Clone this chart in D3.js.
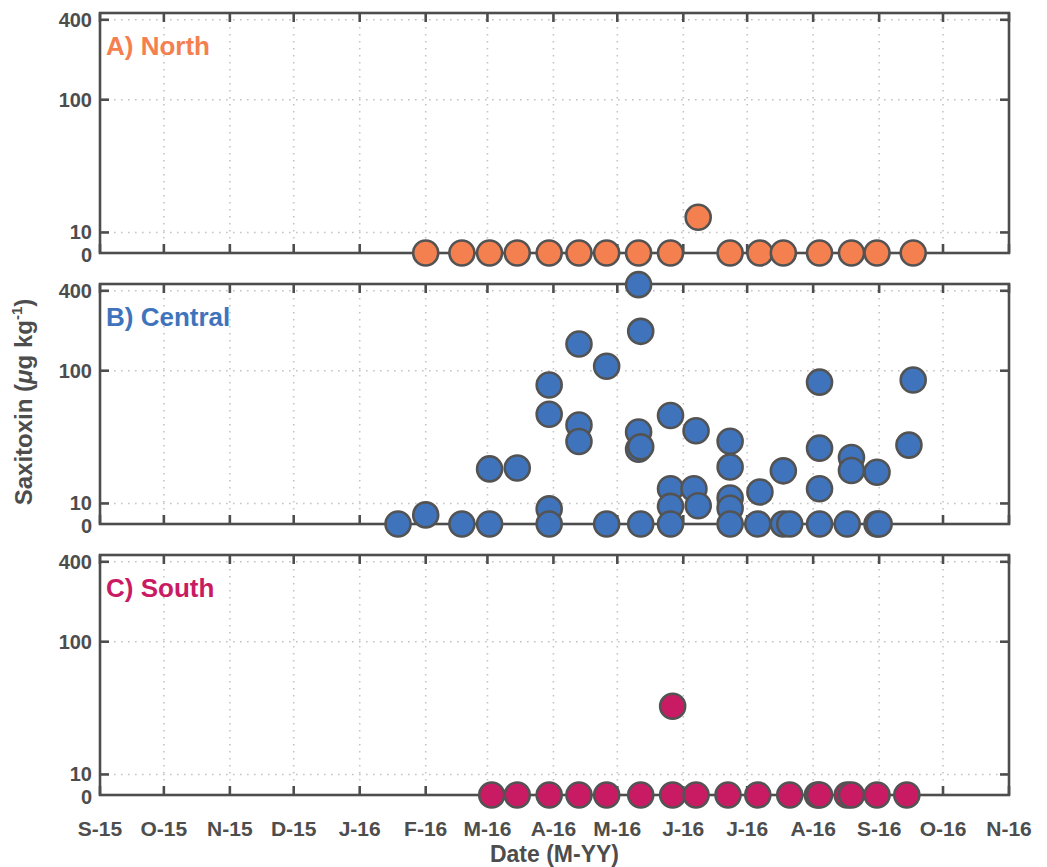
<!DOCTYPE html>
<html>
<head>
<meta charset="utf-8">
<script src="https://cdn.jsdelivr.net/npm/d3@7"></script>
<style>
  body { margin: 0; background: #fff; }
  text { font-family: "Liberation Sans", Arial, sans-serif; font-weight: bold; }
</style>
</head>
<body>
<div id="graph"></div>
<script>
// sampling dates and saxitoxin values (0 = below detection, drawn on the bottom axis)
const northDates = ['2016-02-01', '2016-02-18', '2016-03-02', '2016-03-15', '2016-03-30', '2016-04-13',
  '2016-04-26', '2016-05-11', '2016-05-26', '2016-06-08', '2016-06-23', '2016-07-07', '2016-07-18',
  '2016-08-04', '2016-08-19', '2016-08-31', '2016-09-17']
const northValues = [0, 0, 0, 0, 0, 0, 0, 0, 0, 13, 0, 0, 0, 0, 0, 0, 0]

const centralDates = ['2016-01-19', '2016-02-01', '2016-02-18', '2016-03-02', '2016-03-02', '2016-03-15',
  '2016-03-30', '2016-03-30', '2016-03-30', '2016-03-30', '2016-04-13', '2016-04-13', '2016-04-13',
  '2016-04-26', '2016-04-26', '2016-05-11', '2016-05-12', '2016-05-11', '2016-05-11', '2016-05-12',
  '2016-05-12', '2016-05-26', '2016-05-26', '2016-05-26', '2016-05-26', '2016-06-07', '2016-06-06',
  '2016-06-08', '2016-06-23', '2016-06-23', '2016-06-23', '2016-06-23', '2016-06-23', '2016-07-07',
  '2016-07-06', '2016-07-18', '2016-07-18', '2016-07-21', '2016-08-04', '2016-08-04', '2016-08-04',
  '2016-08-04', '2016-08-19', '2016-08-19', '2016-08-17', '2016-08-31', '2016-08-31', '2016-09-01',
  '2016-09-17', '2016-09-15']
const centralValues = [0, 8.2, 0, 0, 18.2, 18.5,
  78, 47, 9.1, 0, 159, 39, 29.3,
  108, 0, 445, 198, 34.5, 25.6, 26.7,
  0, 46, 12.9, 9.5, 0, 35.3, 12.9,
  9.6, 29.4, 18.8, 11, 9.2, 0, 12.2,
  0, 17.6, 0, 0, 82, 26.1, 12.9,
  0, 22.2, 17.7, 0, 17.2, 0, 0,
  85, 27.5]

const southDates = ['2016-03-03', '2016-03-15', '2016-03-30', '2016-04-13', '2016-04-26', '2016-05-12',
  '2016-05-27', '2016-05-27', '2016-06-07', '2016-06-22', '2016-07-06', '2016-07-21', '2016-08-03',
  '2016-08-04', '2016-08-17', '2016-08-19', '2016-08-31', '2016-09-14']
const southValues = [0, 0, 0, 0, 0, 0, 0, 32.6, 0, 0, 0, 0, 0, 0, 0, 0, 0, 0]

const panelNames = ['A) North', 'B) Central', 'C) South']
const panelColors = ['#f4804f', '#3f74bd', '#c91b63']
const yTicks = [0, 10, 100, 400]

const width = 1047
const height = 867
const left = 100
const right = 1009
const panelTops = [13, 284, 555]
const panelHeight = 240
const axisColor = '#4d4d4d'

const parse = d3.timeParse('%Y-%m-%d')
const panels = [
  { dates: northDates, values: northValues },
  { dates: centralDates, values: centralValues },
  { dates: southDates, values: southValues }
]

const svg = d3.select('#graph').append('svg')
  .attr('width', width)
  .attr('height', height)

const xScale = d3.scaleUtc()
  .domain([new Date(Date.UTC(2015, 8, 1)), new Date(Date.UTC(2016, 10, 1))])
  .range([left, right])
const monthTicks = d3.utcMonth.range(new Date(Date.UTC(2015, 8, 1)), new Date(Date.UTC(2016, 10, 2)))
const monthLabel = (d) => d3.utcFormat('%b')(d)[0] + '-' + d3.utcFormat('%y')(d)

panels.forEach((p, i) => {
  const top = panelTops[i]
  const yScale = d3.scaleLog().domain([7, 450]).range([top + panelHeight, top]).clamp(true)
  const yOf = (v) => yScale(v <= 0 ? 7 : v)
  const g = svg.append('g')

  // grid
  g.selectAll('.vgrid').data(monthTicks.slice(1, -1)).join('line')
    .attr('x1', (d) => xScale(d)).attr('x2', (d) => xScale(d))
    .attr('y1', top).attr('y2', top + panelHeight)
    .attr('stroke', '#c4c4c4').attr('stroke-width', 1.6).attr('stroke-dasharray', '1.6,5.4')
  g.selectAll('.hgrid').data(yTicks.filter((t) => t > 0)).join('line')
    .attr('x1', left).attr('x2', right)
    .attr('y1', (d) => yOf(d)).attr('y2', (d) => yOf(d))
    .attr('stroke', '#c4c4c4').attr('stroke-width', 1.6).attr('stroke-dasharray', '1.6,5.4')

  // box
  g.append('rect')
    .attr('x', left).attr('y', top)
    .attr('width', right - left).attr('height', panelHeight)
    .attr('fill', 'none').attr('stroke', axisColor).attr('stroke-width', 2.6)

  // inward ticks
  g.selectAll('.ytl').data(yTicks.filter((t) => t > 0)).join('line')
    .attr('x1', left).attr('x2', left + 9)
    .attr('y1', (d) => yOf(d)).attr('y2', (d) => yOf(d))
    .attr('stroke', axisColor).attr('stroke-width', 2.6)
  g.selectAll('.ytr').data(yTicks.filter((t) => t > 0)).join('line')
    .attr('x1', right).attr('x2', right - 9)
    .attr('y1', (d) => yOf(d)).attr('y2', (d) => yOf(d))
    .attr('stroke', axisColor).attr('stroke-width', 2.6)
  g.selectAll('.xtb').data(monthTicks).join('line')
    .attr('x1', (d) => xScale(d)).attr('x2', (d) => xScale(d))
    .attr('y1', top + panelHeight).attr('y2', top + panelHeight - 9)
    .attr('stroke', axisColor).attr('stroke-width', 2.6)
  g.selectAll('.xtt').data(monthTicks).join('line')
    .attr('x1', (d) => xScale(d)).attr('x2', (d) => xScale(d))
    .attr('y1', top).attr('y2', top + 9)
    .attr('stroke', axisColor).attr('stroke-width', 2.6)

  // y tick labels (the 0 label sits a touch low so it clears the 10)
  g.selectAll('.ylab').data(yTicks).join('text')
    .attr('x', left - 8)
    .attr('y', (d) => yOf(d) + (d === 0 ? 1.5 : d === 10 ? -1 : 0))
    .attr('dy', '0.36em')
    .attr('text-anchor', 'end')
    .attr('font-size', 20)
    .attr('fill', axisColor)
    .text((d) => d)

  // title
  g.append('text')
    .attr('x', left + 6).attr('y', top + 42)
    .attr('font-size', 26)
    .attr('fill', panelColors[i])
    .text(panelNames[i])

  // points
  const pts = p.dates.map((d, k) => ({ date: parse(d), value: p.values[k] }))
  const utc = (d) => new Date(Date.UTC(d.getFullYear(), d.getMonth(), d.getDate()))
  g.selectAll('circle').data(pts).join('circle')
    .attr('cx', (d) => xScale(utc(d.date)))
    .attr('cy', (d) => yOf(d.value))
    .attr('r', 12.5)
    .attr('fill', panelColors[i])
    .attr('stroke', '#535353')
    .attr('stroke-width', 2.6)
})

// x tick labels under the last panel
const bottom = panelTops[2] + panelHeight
svg.selectAll('.xlab').data(monthTicks).join('text')
  .attr('x', (d) => xScale(d))
  .attr('y', bottom + 41)
  .attr('text-anchor', 'middle')
  .attr('font-size', 21)
  .attr('fill', axisColor)
  .text(monthLabel)

svg.append('text')
  .attr('x', (left + right) / 2)
  .attr('y', bottom + 67)
  .attr('text-anchor', 'middle')
  .attr('font-size', 23)
  .attr('fill', axisColor)
  .text('Date (M-YY)')

const ylab = svg.append('text')
  .attr('transform', 'translate(32,' + (panelTops[1] + panelHeight / 2 - 2) + ') rotate(-90)')
  .attr('text-anchor', 'middle')
  .attr('font-size', 24)
  .attr('fill', axisColor)
ylab.append('tspan').text('Saxitoxin (')
ylab.append('tspan').attr('font-style', 'italic').text('μ')
ylab.append('tspan').text('g kg')
ylab.append('tspan').attr('font-size', 15).attr('dy', -10).text('-1')
ylab.append('tspan').attr('dy', 10).text(')')
</script>
</body>
</html>
